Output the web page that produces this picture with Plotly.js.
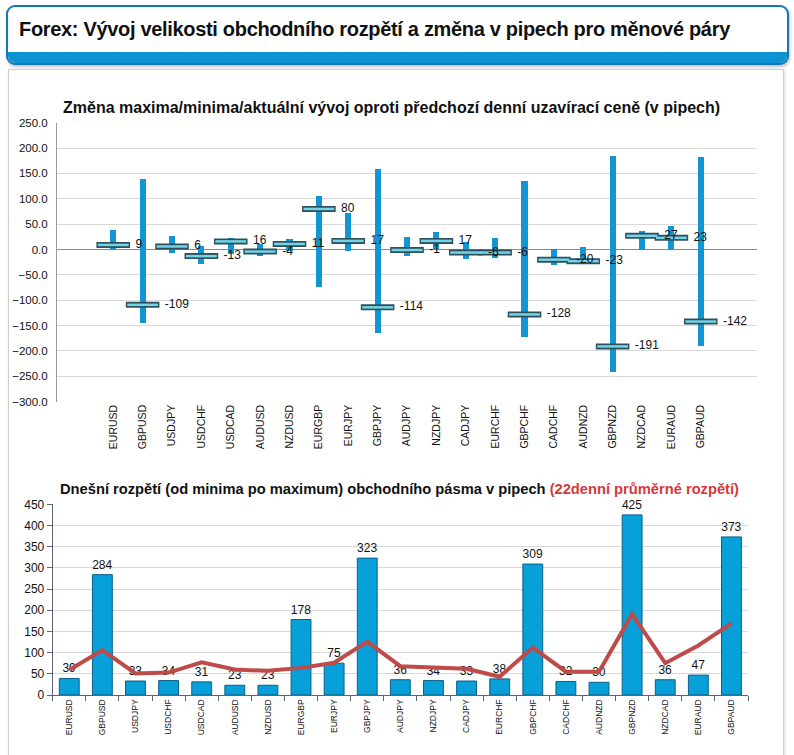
<!DOCTYPE html>
<html>
<head>
<meta charset="utf-8">
<script src="https://cdn.plot.ly/plotly-3.0.1.min.js"></script>
<style>
  html, body { margin: 0; padding: 0; background: #ffffff; }
  body { width: 794px; height: 755px; position: relative; overflow: hidden; font-family: "Liberation Sans", Arial, sans-serif; }
  #header {
    position: absolute; left: 6px; top: 5px; width: 779px; height: 56px;
    border: 2px solid #1577b8; border-radius: 9px; background: #ffffff; overflow: hidden;
    box-shadow: 1px 2px 3px rgba(0,0,0,0.25);
  }
  #header .band { position: absolute; left: 0; right: 0; bottom: 0; height: 11px; background: #0e93d2; }
  #header .txt { position: absolute; left: 11px; top: 11px; font-size: 20px; font-weight: bold; color: #111; white-space: nowrap; letter-spacing: -0.32px; }
  #panel {
    position: absolute; left: 8px; top: 69px; width: 774px; height: 700px;
    border: 1px solid #cfcfcf; background: #ffffff; box-shadow: 1px 1px 3px rgba(0,0,0,0.15);
  }
  #chart { position: absolute; left: 0; top: 0; width: 794px; height: 755px; }
</style>
</head>
<body>
<div id="header"><div class="txt">Forex: Vývoj velikosti obchodního rozpětí a změna v pipech pro měnové páry</div><div class="band"></div></div>
<div id="panel"></div>
<div id="chart"></div>
<script>
const pairs = ['EURUSD','GBPUSD','USDJPY','USDCHF','USDCAD','AUDUSD','NZDUSD','EURGBP','EURJPY','GBPJPY','AUDJPY','NZDJPY','CADJPY','EURCHF','GBPCHF','CADCHF','AUDNZD','GBPNZD','NZDCAD','EURAUD','GBPAUD'];
const dayMax  = [39, 139, 27,   6, 22,  11, 20, 105, 72, 158,  24, 34,  15,  22, 136,   2,   4, 184, 36, 47, 183];
const dayMin  = [0, -145, -6, -28, -9, -12, -3, -73, -3, -165, -12,  0, -18, -16, -173, -30, -26, -241, 0,  0, -190];
const current = [9, -109,  6, -13, 16,  -4, 11,  80, 17, -114,  -1, 17,  -6,  -6, -128, -20, -23, -191, 27, 23, -142];
const todayRange = [39, 284, 33, 34, 31, 23, 23, 178, 75, 323, 36, 34, 33, 38, 309, 32, 30, 425, 36, 47, 373];
const avg22      = [59, 106, 51, 53, 77, 60, 57,  64, 76, 126, 68, 65, 62, 43, 112, 55, 55, 191, 75, 117, 169];
const topTicks = [250, 200, 150, 100, 50, 0, -50, -100, -150, -200, -250, -300];
const bottomTicks = [0, 50, 100, 150, 200, 250, 300, 350, 400, 450];

const font = "Liberation Sans, Arial, sans-serif";
const W = 794, H = 755;

const traces = [
  {
    type: 'bar', x: pairs, y: dayMax.map((v, i) => v - dayMin[i]), base: dayMin,
    width: 0.21, marker: { color: '#1196d3' }, xaxis: 'x', yaxis: 'y',
    hoverinfo: 'skip', showlegend: false
  },
  {
    type: 'scatter', mode: 'markers', x: pairs, y: current, xaxis: 'x', yaxis: 'y',
    marker: { symbol: 'line-ew', size: 24, line: { width: 6, color: '#2f4f5c' } },
    hoverinfo: 'skip', showlegend: false, cliponaxis: false
  },
  {
    type: 'scatter', mode: 'markers', x: pairs, y: current, xaxis: 'x', yaxis: 'y',
    marker: { symbol: 'line-ew', size: 22, line: { width: 2.5, color: '#72d5e7' } },
    hoverinfo: 'skip', showlegend: false, cliponaxis: false
  },
  {
    type: 'scatter', mode: 'markers+text', x: pairs, y: current, xaxis: 'x', yaxis: 'y',
    marker: { symbol: 'circle', size: 34, color: 'rgba(0,0,0,0)' },
    text: current.map(String), textposition: 'middle right',
    textfont: { family: font, size: 12, color: '#111' },
    hoverinfo: 'skip', showlegend: false, cliponaxis: false
  },
  {
    type: 'bar', x: pairs, y: todayRange, xaxis: 'x2', yaxis: 'y2', width: 0.6,
    marker: { color: '#08a0d8', line: { color: '#0b5f86', width: 1 } },
    text: todayRange.map(String), textposition: 'outside', constraintext: 'none', cliponaxis: false,
    textfont: { family: font, size: 12, color: '#111' },
    hoverinfo: 'skip', showlegend: false
  },
  {
    type: 'scatter', mode: 'lines', x: pairs, y: avg22, xaxis: 'x2', yaxis: 'y2',
    line: { color: '#be4b48', width: 4 }, hoverinfo: 'skip', showlegend: false
  }
];

const layout = {
  width: W, height: H, margin: { l: 0, r: 0, t: 0, b: 0 },
  paper_bgcolor: 'rgba(0,0,0,0)', plot_bgcolor: 'rgba(0,0,0,0)',
  font: { family: font, size: 11, color: '#111' },
  bargap: 0, barmode: 'overlay',
  xaxis: {
    domain: [57 / W, 757 / W], anchor: 'y', type: 'category',
    tickangle: -90, tickfont: { size: 10.5 }, showgrid: false, zeroline: false, showline: false, ticks: ''
  },
  yaxis: {
    domain: [1 - 401.7 / H, 1 - 122.7 / H], anchor: 'x', range: [-300, 250],
    tickvals: topTicks, tickformat: '.1f', tickfont: { size: 11.5 }, ticklabelstandoff: 6,
    showgrid: true, gridcolor: '#d9d9d9', gridwidth: 1,
    zeroline: true, zerolinecolor: '#8a8a8a', zerolinewidth: 1,
    showline: true, linecolor: '#9a9a9a', ticks: ''
  },
  xaxis2: {
    domain: [52.7 / W, 748 / W], anchor: 'y2', type: 'category',
    tickangle: -90, tickfont: { size: 8.5 }, showgrid: false, zeroline: false,
    showline: true, linecolor: '#5b6578', ticks: 'outside', tickson: 'boundaries', ticklen: 5, tickcolor: '#5b6578'
  },
  yaxis2: {
    domain: [1 - 695 / H, 1 - 504.3 / H], anchor: 'x2', range: [0, 450],
    tickvals: bottomTicks, tickfont: { size: 12 },
    showgrid: true, gridcolor: '#d9d9d9', zeroline: false,
    showline: true, linecolor: '#5b6578', ticks: 'outside', ticklen: 5, tickcolor: '#5b6578'
  },
  annotations: [
    {
      text: '<b>Změna maxima/minima/aktuální vývoj oproti předchozí denní uzavírací ceně (v pipech)</b>',
      xref: 'paper', yref: 'paper', x: 391 / W, y: 1 - 108 / H, xanchor: 'center', yanchor: 'middle',
      showarrow: false, font: { family: font, size: 16, color: '#111' }
    },
    {
      text: '<b>Dnešní rozpětí (od minima po maximum) obchodního pásma v pipech <span style="color:#d8383c">(22denní průměrné rozpětí)</span></b>',
      xref: 'paper', yref: 'paper', x: 399 / W, y: 1 - 489 / H, xanchor: 'center', yanchor: 'middle',
      showarrow: false, font: { family: font, size: 14.7, color: '#111' }
    }
  ]
};

Plotly.newPlot('chart', traces, layout, { staticPlot: true, displayModeBar: false });
</script>
</body>
</html>
